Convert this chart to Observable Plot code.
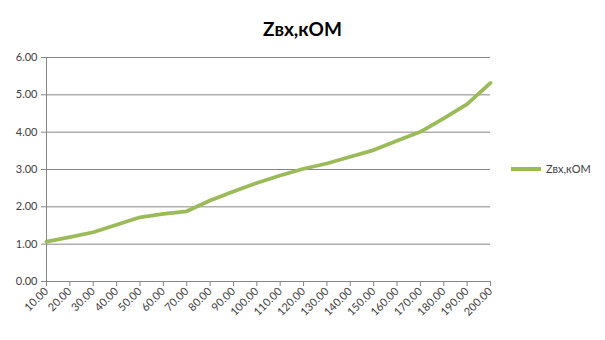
<!DOCTYPE html>
<html>
<head>
<meta charset="utf-8">
<script src="https://cdn.jsdelivr.net/npm/d3@7"></script>
<script src="https://cdn.jsdelivr.net/npm/@observablehq/plot@0.6"></script>
<style>
  html, body { margin: 0; padding: 0; background: #fff; }
  #wrap { position: relative; width: 605px; height: 340px; font-family: Lato, "Open Sans", sans-serif; }
  #title { position: absolute; left: 0; width: 605px; top: 17px; text-align: center; font-weight: bold; font-size: 19px; color: #000; }
  #legend { position: absolute; left: 511px; top: 162px; font-size: 11px; color: #404040; display: flex; align-items: center; }
  #legend .sw { width: 30px; height: 4px; background: #9BBB59; margin-right: 5px; }
  svg { position: absolute; left: 0; top: 0; }
</style>
</head>
<body>
<div id="wrap">
  <div id="chart"></div>
  <div id="title">Zвх,кОМ</div>
  <div id="legend"><span class="sw"></span><span>Zвх,кОМ</span></div>
</div>
<script>
const seriesName = "Zвх,кОМ";
const xValues = [10, 20, 30, 40, 50, 60, 70, 80, 90, 100, 110, 120, 130, 140, 150, 160, 170, 180, 190, 200];
const zValues = [1.07, 1.19, 1.32, 1.52, 1.72, 1.81, 1.88, 2.17, 2.41, 2.64, 2.84, 3.02, 3.16, 3.34, 3.52, 3.77, 4.01, 4.37, 4.75, 5.32];
const yTicks = [0, 1, 2, 3, 4, 5, 6];

const data = xValues.map((x, i) => ({x, z: zValues[i]}));

const chart = Plot.plot({
  width: 605,
  height: 340,
  marginLeft: 46,
  marginRight: 115,
  marginTop: 57,
  marginBottom: 59,
  style: {fontFamily: "Lato, 'Open Sans', sans-serif", fontSize: "11px", color: "#404040", background: "transparent"},
  x: {domain: [10, 200], ticks: xValues, tickFormat: d => d.toFixed(2), tickRotate: -45, tickSize: 5, tickPadding: 3, label: null},
  y: {domain: [0, 6], ticks: yTicks, tickFormat: d => d.toFixed(2), tickSize: 5, tickPadding: 4, label: null},
  marks: [
    Plot.gridY(yTicks, {stroke: "#868686", strokeOpacity: 1, strokeWidth: 1}),
    Plot.ruleX([10], {stroke: "#868686"}),
    Plot.ruleY([0], {stroke: "#868686"}),
    Plot.axisY({ticks: yTicks, tickFormat: d => d.toFixed(2), tickSize: 5, tickPadding: 4, stroke: "#868686", color: "#404040"}),
    Plot.axisX({ticks: xValues, tickFormat: d => d.toFixed(2), tickRotate: -45, tickSize: 5, tickPadding: 3, stroke: "#868686", color: "#404040"}),
    Plot.line(data, {x: "x", y: "z", stroke: "#9BBB59", strokeWidth: 3.75})
  ]
});
document.getElementById("chart").appendChild(chart);
</script>
</body>
</html>
